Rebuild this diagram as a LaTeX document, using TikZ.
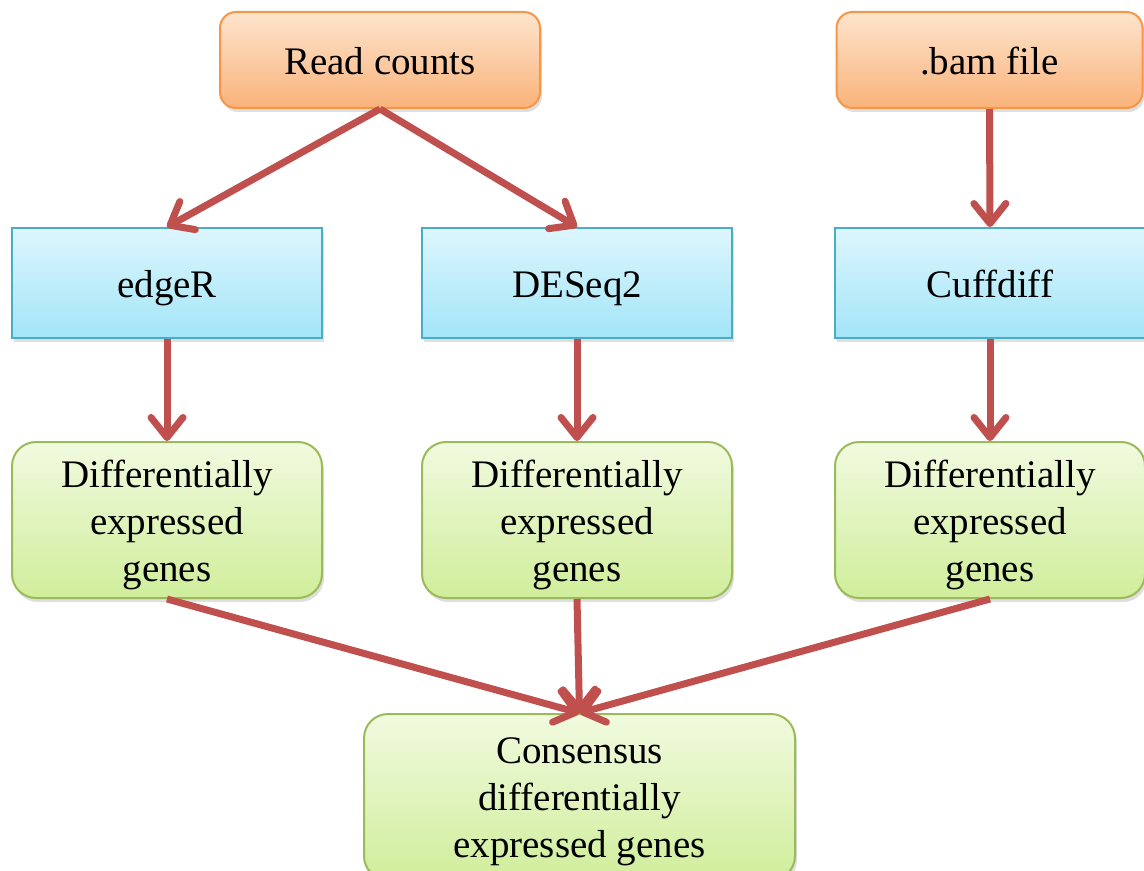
\documentclass[tikz,border=0pt]{standalone}
\usepackage{fontspec}
\setmainfont{Liberation Serif}
\usetikzlibrary{arrows.meta,shadows}
\definecolor{arrowred}{HTML}{C0504D}
\definecolor{srcline}{HTML}{F79646}
\definecolor{srctop}{HTML}{FEE4CE}
\definecolor{srcbot}{HTML}{F9B37A}
\definecolor{toolline}{HTML}{4BACC6}
\definecolor{tooltop}{HTML}{DDF6FD}
\definecolor{toolbot}{HTML}{A3E5F8}
\definecolor{degline}{HTML}{9BBB59}
\definecolor{degtop}{HTML}{F1FADF}
\definecolor{degbot}{HTML}{D0EE9B}
\begin{document}
\begin{tikzpicture}[x=.5pt,y=-.5pt,font=\fontsize{19.5}{23.5}\selectfont,
  box/.style={line width=1pt,align=center,inner sep=0pt,
    drop shadow={opacity=.25,shadow xshift=1pt,shadow yshift=-2pt}},
  oneline/.style={text height=17pt,text depth=2pt},
  source/.style={box,oneline,draw=srcline,top color=srctop,bottom color=srcbot,
    rounded corners=8pt,minimum height=48pt},
  tool/.style={box,oneline,draw=toolline,top color=tooltop,bottom color=toolbot,
    minimum width=155pt,minimum height=55pt},
  deg/.style={box,draw=degline,top color=degtop,bottom color=degbot,
    rounded corners=12pt,minimum width=155pt,minimum height=78pt,
    text height=65.5pt,text depth=4.5pt},
  flow/.style={draw=arrowred,line width=3.5pt,
    -{Straight Barb[length=10pt,width=16pt,line cap=round,line join=round]}}]
  \useasboundingbox (0,0) rectangle (1144,871);
  \node[source,minimum width=160pt] (reads) at (380,60) {Read counts};
  \node[source,minimum width=153pt] (bam) at (989.5,60) {.bam file};
  \node[tool] (edger) at (167,283) {edgeR};
  \node[tool] (deseq) at (577,283) {DESeq2};
  \node[tool] (cuffdiff) at (990,283) {Cuffdiff};
  \node[deg] (degA) at (167,520) {Differentially\\expressed\\genes};
  \node[deg] (degB) at (577,520) {Differentially\\expressed\\genes};
  \node[deg] (degC) at (990,520) {Differentially\\expressed\\genes};
  \node[deg,minimum width=215.5pt,minimum height=83pt,text height=64.5pt] (consensus)
    at (579.5,797) {Consensus\\differentially\\expressed genes};
  \draw[flow] (reads.south) -- (edger.north);
  \draw[flow] (reads.south) -- (deseq.north);
  \draw[flow] (bam.south) -- (cuffdiff.north);
  \draw[flow] (edger.south) -- (degA.north);
  \draw[flow] (deseq.south) -- (degB.north);
  \draw[flow] (cuffdiff.south) -- (degC.north);
  \draw[flow] (degA.south) -- (consensus.north);
  \draw[flow] (degB.south) -- (consensus.north);
  \draw[flow] (degC.south) -- (consensus.north);
\end{tikzpicture}
\end{document}
